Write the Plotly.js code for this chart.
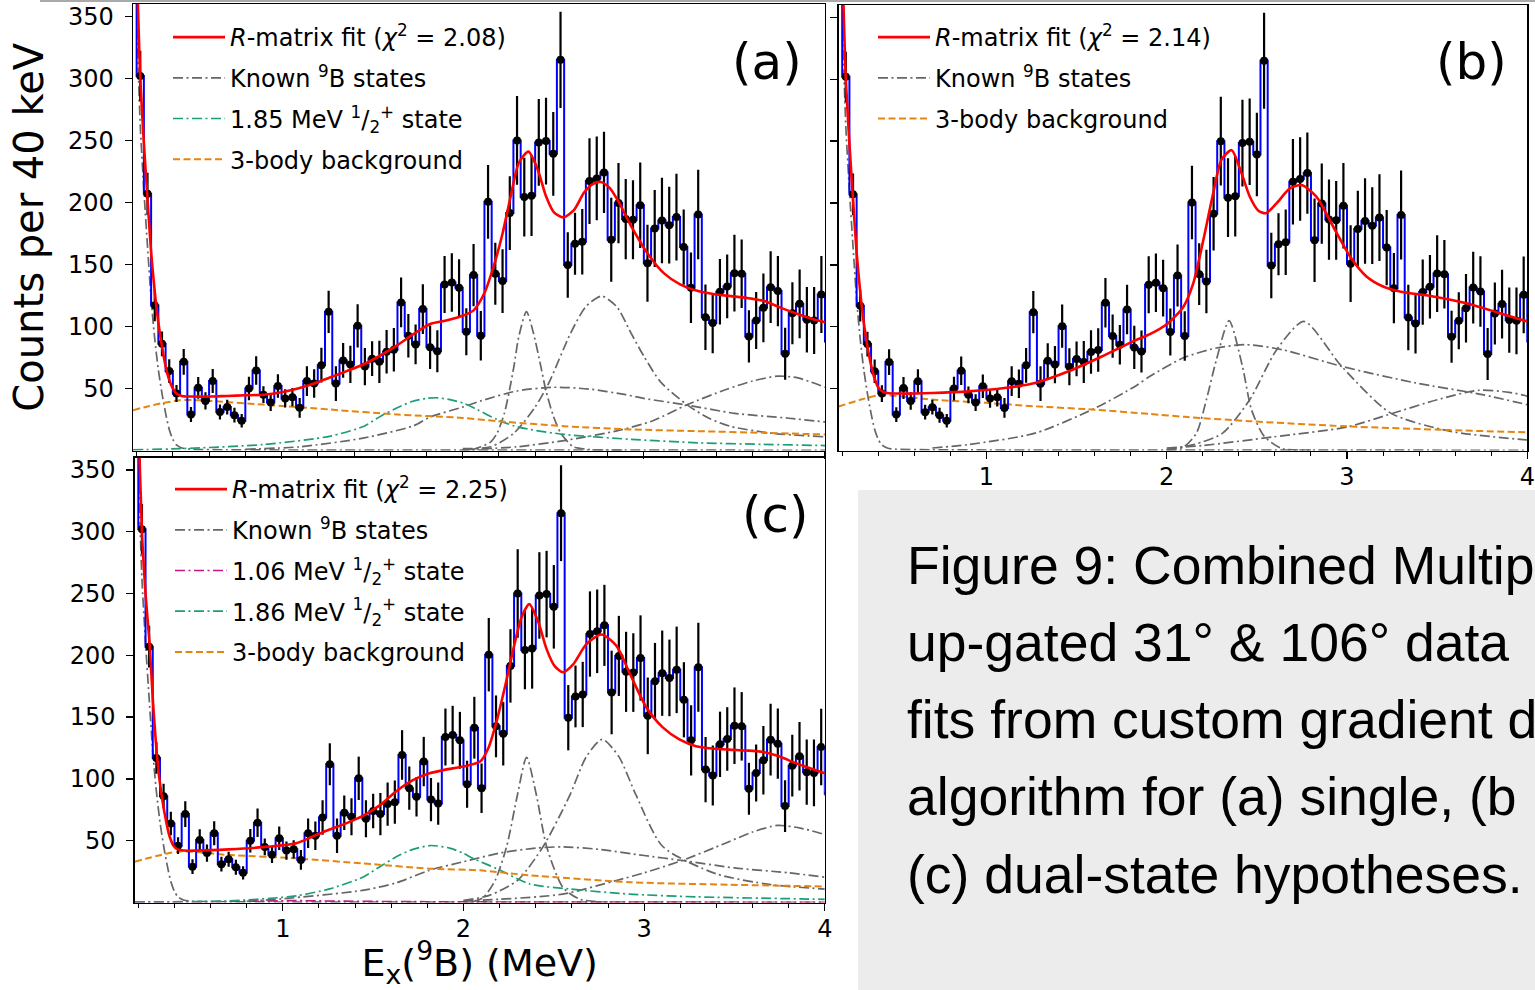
<!DOCTYPE html>
<html>
<head>
<meta charset="utf-8">
<script src="https://cdn.plot.ly/plotly-3.0.1.min.js"></script>
<style>html,body{margin:0;padding:0;background:#fff;}#chart{width:1535px;height:990px;}</style>
</head>
<body>
<div id="chart"></div>
<script>
// ---------- measured data (same spectrum in all three panels) ----------
const binCenters = [0.18,0.22,0.26,0.30,0.34,0.38,0.42,0.46,0.50,0.54,0.58,0.62,0.66,0.70,0.74,0.78,0.82,0.86,0.90,0.94,0.98,1.02,1.06,1.10,1.14,1.18,1.22,1.26,1.30,1.34,1.38,1.42,1.46,1.50,1.54,1.58,1.62,1.66,1.70,1.74,1.78,1.82,1.86,1.90,1.94,1.98,2.02,2.06,2.10,2.14,2.18,2.22,2.26,2.30,2.34,2.38,2.42,2.46,2.50,2.54,2.58,2.62,2.66,2.70,2.74,2.78,2.82,2.86,2.90,2.94,2.98,3.02,3.06,3.10,3.14,3.18,3.22,3.26,3.30,3.34,3.38,3.42,3.46,3.50,3.54,3.58,3.62,3.66,3.70,3.74,3.78,3.82,3.86,3.90,3.94,3.98,4.02];
const counts = [520,302,207,117,86,64,46,71.5,29,50.5,40,56,31,35,28.5,24,50,64.5,45,38.7,52,42,43,34.4,56,54,68.8,111.8,54,72.6,69.4,100.5,67.7,74,71.5,79.6,81.2,119.4,92.5,85.5,114,83.3,80,133.9,135.5,131.2,95.7,141.4,92.5,200.5,142.5,136.6,191.4,250,204.3,205.4,248.4,249.5,239.2,315,149.5,166.7,168.3,217.2,219.4,224.2,169.9,199.5,186.6,186,197.8,151,179,185.5,181.7,188.2,164,131.2,190.3,107.5,102.7,128,132.3,143,142.5,92,104.8,115,131.7,128.5,78,110.7,118.3,105.4,104.8,125.8,88];
const countErrors = [25,20.3,16.9,12.8,10,9.5,6.8,10.4,6,8.8,7,9.7,6,6,6,5.4,9.5,11.5,6.8,6.8,9.5,7.4,7.4,8,12,11.5,14,17,14,14,15,17.5,15,14,17,17.5,17.5,20,17.5,16,20,17.5,17,23,23.6,23,19,25,20,29.7,25,25.7,29.7,35.8,31.8,32.4,35,35,33.8,38.8,26.4,25,26.4,34.5,33.8,32.8,33.8,32.4,32.4,31.8,34.5,31,31,34.5,31,35,30.4,28.4,36,26.4,24.3,26.4,25.7,31,27.7,21,23,27.7,29,28.4,21,25,27.7,26.4,27,31,25];

// ground-state peak (known 9B state)
const gsState_x = [0.18,0.19,0.20,0.21,0.22,0.24,0.26,0.28,0.30,0.32,0.34,0.36,0.38,0.40,0.42,0.45,0.50,0.70,1.00,2.00,4.00];
const gsState_y = [600,470,370,305,262,210,165,122,90,65,46,30,17,9,4.5,2,1,0.6,0.4,0.3,0.2];

// ---------- panel (a): single-state hypothesis ----------
const fitA_x = [0.18,0.19,0.20,0.21,0.22,0.24,0.26,0.28,0.30,0.32,0.34,0.36,0.38,0.40,0.42,0.45,0.50,0.60,0.70,0.80,0.90,1.00,1.09,1.18,1.27,1.36,1.455,1.55,1.64,1.73,1.82,1.915,2.007,2.06,2.12,2.17,2.22,2.265,2.31,2.363,2.413,2.46,2.504,2.556,2.615,2.67,2.72,2.762,2.81,2.855,2.93,3.02,3.11,3.20,3.30,3.39,3.48,3.57,3.665,3.757,3.85,3.94,4.00];
const fitA_y = [640,500,400,345,300,248,203,160,128,103,84,68,57,50,46,44,43.5,43.5,44,44.5,45,47,50,54,59,64,69.5,77,85,94,102,105,109,113,127,148,175,205,232,241,227,205,192,188,194,208,215,216.5,212,202,181,159,143,134,128.5,126,124.5,123,120.5,115,110,105.6,103.5];
const narrowA_x = [2.05,2.10,2.155,2.19,2.23,2.26,2.283,2.31,2.352,2.39,2.431,2.46,2.50,2.541,2.58,2.61,2.70,2.90];
const narrowA_y = [0.5,3,7,14,30,50,68,92,112,95,68,48,28,14,7,3,0.8,0.2];
const peakA_x = [2.00,2.155,2.283,2.40,2.477,2.597,2.68,2.766,2.85,2.928,3.00,3.094,3.241,3.36,3.48,3.70,4.00];
const peakA_y = [1.5,3,14,35,55,95,116,124.5,116,95,76,55,36.6,26,19.4,14,11];
const broadA_x = [0.80,1.10,1.45,1.73,1.82,2.00,2.10,2.30,2.50,2.70,2.90,3.00,3.24,3.50,3.80,4.00];
const broadA_y = [1,3,10,20,27,35,40,48,51,49.5,45,42,36.6,30,26,23];
const highA_x = [2.00,2.30,2.56,2.855,3.05,3.24,3.45,3.60,3.74,3.85,4.00];
const highA_y = [0.5,3,8,16,24,37,49,56,60,58.5,51];
const newA_x = [0.18,0.44,0.90,1.27,1.455,1.547,1.639,1.72,1.80,1.86,1.93,2.007,2.08,2.19,2.28,2.37,2.56,2.93,3.30,3.65,4.00];
const newA_y = [0.5,1.5,4.8,11.6,19.6,27.7,34.4,39.5,42,42.5,41,38,33,25,20,17,13,9,6.2,5,4];
const bgA_x = [0.18,0.26,0.35,0.44,0.55,0.62,0.90,1.27,1.64,2.00,2.19,2.56,2.93,3.30,3.67,4.00];
const bgA_y = [32.5,35.5,38.4,40.5,40.5,39.8,37,33,29,26.3,23.7,19.6,17,15.6,14.2,12.9];

// ---------- panel (b): no new state ----------
const fitB_x = [0.18,0.19,0.20,0.21,0.22,0.24,0.26,0.28,0.30,0.32,0.34,0.36,0.38,0.40,0.42,0.45,0.53,0.70,0.90,1.10,1.27,1.456,1.64,1.826,1.907,2.00,2.092,2.147,2.203,2.258,2.304,2.36,2.415,2.461,2.507,2.55,2.609,2.683,2.748,2.831,2.923,3.016,3.108,3.20,3.293,3.478,3.663,3.848,4.00];
const fitB_y = [640,500,400,345,300,248,203,160,128,103,84,69,58,51,48,46.5,46,46.5,47.8,50.5,54.6,64,76,89,94,102,116,135,170,208,235,242.7,224,205,194,191.7,199.7,211.8,214.5,205,181,157,140.6,132.5,128.5,124.5,119,111,104.3];
const broadB_x = [0.70,0.90,1.27,1.60,1.826,1.907,2.09,2.275,2.44,2.64,2.97,3.38,3.75,4.00];
const broadB_y = [2,4.8,14,34,52,60,74.7,82.8,85.5,81.5,68,54.6,45.2,37];
const narrowB_x = [2.00,2.09,2.165,2.22,2.275,2.346,2.42,2.47,2.54,2.64,2.80];
const narrowB_y = [0.5,2.5,14,41,73,105,68,33,11.6,1.5,0.3];
const peakB_x = [2.00,2.15,2.31,2.46,2.61,2.761,2.97,3.24,3.57,4.00];
const peakB_y = [1,4.8,14,41,81.5,104.3,68,30.4,15.6,8.5];
const highB_x = [2.00,2.20,2.59,3.00,3.23,3.50,3.73,3.90,4.00];
const highB_y = [2,4,11,19,29,41,48.7,47,44];
const bgB_x = [0.18,0.30,0.40,0.50,0.71,1.00,1.27,1.60,1.907,2.10,2.46,3.00,3.57,4.00];
const bgB_y = [35.5,41,44.5,44,41,38.5,35.7,33,29.5,27.2,23.7,19.5,16.5,14.7];

// ---------- panel (c): dual-state hypothesis ----------
const fitC_x = [0.18,0.19,0.20,0.22,0.24,0.262,0.28,0.298,0.315,0.335,0.355,0.372,0.395,0.418,0.45,0.52,0.70,0.889,1.074,1.16,1.258,1.35,1.443,1.54,1.628,1.72,1.812,1.90,1.997,2.092,2.138,2.184,2.23,2.276,2.322,2.364,2.414,2.46,2.505,2.551,2.607,2.68,2.763,2.846,2.919,3.011,3.103,3.195,3.287,3.379,3.47,3.562,3.654,3.746,3.838,3.93,4.00];
const fitC_y = [640,500,400,300,250,210,165,128,102,81,65,54,46,43,42,42,43,44.8,48,53,59,64,70,79,90,99,104.5,107.5,110,114,125,147,174.7,205,231,241.4,227,205,191.2,186.3,192.6,209,216.8,207.8,185.7,158.2,141.7,132,126.5,124.6,123.7,123,121.9,118.3,112.8,108,104.5];
const narrowC_x = [2.05,2.11,2.175,2.239,2.298,2.349,2.404,2.46,2.55,2.643,2.80];
const narrowC_y = [0.5,4,17.8,45.3,86.6,117.4,86.6,45.3,12.3,2.7,0.3];
const peakC_x = [2.00,2.147,2.30,2.441,2.588,2.68,2.768,2.86,2.956,3.103,3.397,3.70,4.00];
const peakC_y = [1.5,6,18,45.3,86.6,118,132,118,86.6,45.3,23.3,14.5,10.9];
const broadC_x = [0.80,1.00,1.45,1.63,1.81,2.00,2.20,2.40,2.55,2.75,3.00,3.21,3.50,3.80,4.00];
const broadC_y = [1,3,10,16,26,33,40,44,45,43,38,34,28,24,20.5];
const highC_x = [2.00,2.20,2.55,2.846,3.00,3.21,3.45,3.60,3.737,3.87,4.00];
const highC_y = [1.5,2.6,6.8,17.8,24,34,48,57,62.4,60,55];
const lowStateC_x = [0.18,0.60,0.90,1.06,1.30,1.80,2.50,4.00];
const lowStateC_y = [0.2,0.6,1.2,1.5,1.1,0.6,0.3,0.2];
const newC_x = [0.18,0.705,1.074,1.258,1.443,1.535,1.628,1.72,1.82,1.923,2.00,2.052,2.184,2.368,2.588,2.919,3.287,4.00];
const newC_y = [0.5,1.3,5.4,11,20.5,28.8,37,43,46.1,44,39.8,35.7,27.4,15,10.9,6.8,4.6,2.6];
const bgC_x = [0.18,0.428,0.705,1.074,1.443,1.81,2.09,2.368,2.92,3.47,4.00];
const bgC_y = [33,41.2,38.4,35.7,31.6,27.4,26,22,16.4,14.4,13];

// ---------- text ----------
const legendTexts = {
  fitA: '<i>R</i>-matrix fit (<i>χ</i><sup>2</sup> = 2.08)',
  fitB: '<i>R</i>-matrix fit (<i>χ</i><sup>2</sup> = 2.14)',
  fitC: '<i>R</i>-matrix fit (<i>χ</i><sup>2</sup> = 2.25)',
  known: 'Known <sup>9</sup>B states',
  newA: '1.85 MeV <sup>1</sup>/<sub>2</sub><sup>+</sup> state',
  lowC: '1.06 MeV <sup>1</sup>/<sub>2</sub><sup>+</sup> state',
  newC: '1.86 MeV <sup>1</sup>/<sub>2</sub><sup>+</sup> state',
  bg: '3-body background'
};
const yTickVals = [50,100,150,200,250,300,350];
const captionLines = ['Figure 9: Combined Multip','up-gated 31° &amp; 106° data','fits from custom gradient d','algorithm for (a) single, (b','(c) dual-state hypotheses.'];

// ---------- styles ----------
const W = 1535, H = 990;
const RED = '#ff0000', BLUE = '#0000ff', GRAY = '#666666', GREEN = '#1b9e77', ORANGE = '#e6850e', MAGENTA = '#c71585';
const DASHDOT = '10px,3.5px,2px,3.5px';
const FONT = 'DejaVu Sans, Verdana, sans-serif';

const traces = [];
function line(x, y, xa, ya, leg, color, dash, width, name, show, rank, group) {
  traces.push({type:'scatter', mode:'lines', x:x, y:y, xaxis:xa, yaxis:ya, legend:leg,
    line:{color:color, dash:dash, width:width, shape:'spline', smoothing:0.7},
    name:name, showlegend:show, legendrank:rank, legendgroup:group, hoverinfo:'skip'});
}
function panel(s, xa, ya, leg, comps, fit, fitName) {
  comps.forEach(c => line(c.x, c.y, xa, ya, leg, c.color, c.dash, c.width, c.name, c.show, c.rank, s + c.group));
  traces.push({type:'scatter', mode:'lines', x:binCenters, y:counts, xaxis:xa, yaxis:ya, legend:leg,
    line:{color:BLUE, width:2, shape:'hvh'}, showlegend:false, hoverinfo:'skip'});
  traces.push({type:'scatter', mode:'markers', x:binCenters, y:counts, xaxis:xa, yaxis:ya, legend:leg,
    marker:{color:'#000', size:8},
    error_y:{type:'data', array:countErrors, visible:true, color:'#000', thickness:2.2, width:0},
    showlegend:false, hoverinfo:'skip'});
  line(fit.x, fit.y, xa, ya, leg, RED, 'solid', 2.6, fitName, true, 1, s + 'fit');
}

panel('a', 'x', 'y', 'legend', [
  {x:gsState_x, y:gsState_y, color:GRAY, dash:DASHDOT, width:1.7, name:legendTexts.known, show:true, rank:2, group:'known'},
  {x:narrowA_x, y:narrowA_y, color:GRAY, dash:DASHDOT, width:1.7, name:legendTexts.known, show:false, rank:2, group:'known'},
  {x:peakA_x, y:peakA_y, color:GRAY, dash:DASHDOT, width:1.7, name:legendTexts.known, show:false, rank:2, group:'known'},
  {x:broadA_x, y:broadA_y, color:GRAY, dash:DASHDOT, width:1.7, name:legendTexts.known, show:false, rank:2, group:'known'},
  {x:highA_x, y:highA_y, color:GRAY, dash:DASHDOT, width:1.7, name:legendTexts.known, show:false, rank:2, group:'known'},
  {x:newA_x, y:newA_y, color:GREEN, dash:DASHDOT, width:1.7, name:legendTexts.newA, show:true, rank:4, group:'new'},
  {x:bgA_x, y:bgA_y, color:ORANGE, dash:'7px,3.5px', width:2, name:legendTexts.bg, show:true, rank:5, group:'bg'}
], {x:fitA_x, y:fitA_y}, legendTexts.fitA);

panel('b', 'x2', 'y2', 'legend2', [
  {x:gsState_x, y:gsState_y, color:GRAY, dash:DASHDOT, width:1.7, name:legendTexts.known, show:true, rank:2, group:'known'},
  {x:broadB_x, y:broadB_y, color:GRAY, dash:DASHDOT, width:1.7, name:legendTexts.known, show:false, rank:2, group:'known'},
  {x:narrowB_x, y:narrowB_y, color:GRAY, dash:DASHDOT, width:1.7, name:legendTexts.known, show:false, rank:2, group:'known'},
  {x:peakB_x, y:peakB_y, color:GRAY, dash:DASHDOT, width:1.7, name:legendTexts.known, show:false, rank:2, group:'known'},
  {x:highB_x, y:highB_y, color:GRAY, dash:DASHDOT, width:1.7, name:legendTexts.known, show:false, rank:2, group:'known'},
  {x:bgB_x, y:bgB_y, color:ORANGE, dash:'7px,3.5px', width:2, name:legendTexts.bg, show:true, rank:5, group:'bg'}
], {x:fitB_x, y:fitB_y}, legendTexts.fitB);

panel('c', 'x3', 'y3', 'legend3', [
  {x:gsState_x, y:gsState_y, color:GRAY, dash:DASHDOT, width:1.7, name:legendTexts.known, show:true, rank:2, group:'known'},
  {x:narrowC_x, y:narrowC_y, color:GRAY, dash:DASHDOT, width:1.7, name:legendTexts.known, show:false, rank:2, group:'known'},
  {x:peakC_x, y:peakC_y, color:GRAY, dash:DASHDOT, width:1.7, name:legendTexts.known, show:false, rank:2, group:'known'},
  {x:broadC_x, y:broadC_y, color:GRAY, dash:DASHDOT, width:1.7, name:legendTexts.known, show:false, rank:2, group:'known'},
  {x:highC_x, y:highC_y, color:GRAY, dash:DASHDOT, width:1.7, name:legendTexts.known, show:false, rank:2, group:'known'},
  {x:lowStateC_x, y:lowStateC_y, color:MAGENTA, dash:DASHDOT, width:1.7, name:legendTexts.lowC, show:true, rank:3, group:'low'},
  {x:newC_x, y:newC_y, color:GREEN, dash:DASHDOT, width:1.7, name:legendTexts.newC, show:true, rank:4, group:'new'},
  {x:bgC_x, y:bgC_y, color:ORANGE, dash:'7px,3.5px', width:2, name:legendTexts.bg, show:true, rank:5, group:'bg'}
], {x:fitC_x, y:fitC_y}, legendTexts.fitC);

// ---------- axes ----------
const tickFont = {family: FONT, size: 24, color: '#000'};
function xAxis(domPx, anchor, labels, extra) {
  return Object.assign({domain:[domPx[0]/W, domPx[1]/W], anchor:anchor, range:[0.18, 4.0],
    tick0:0, dtick:1, ticks:'outside', ticklen:7, tickwidth:1.3, tickcolor:'#000',
    showticklabels:labels, tickfont:tickFont, ticklabelstandoff:-3,
    showline:true, linecolor:'#000', linewidth:1.4, mirror:true, showgrid:false, zeroline:false,
    minor:{tick0:0, dtick:0.2, ticks:'outside', ticklen:4, tickwidth:1, tickcolor:'#000', showgrid:false},
    fixedrange:true}, extra || {});
}
function yAxis(domPx, anchor, labels, extra) {
  return Object.assign({domain:[1 - domPx[1]/H, 1 - domPx[0]/H], anchor:anchor, range:[0, 360],
    tickmode:'array', tickvals:yTickVals, ticks:'outside', ticklen:7, tickwidth:1.3, tickcolor:'#000',
    showticklabels:labels, tickfont:tickFont, ticklabelstandoff:6,
    showline:true, linecolor:'#000', linewidth:1.4, mirror:true, showgrid:false, zeroline:false,
    fixedrange:true}, extra || {});
}
function legendAt(leftPx, topPx) {
  return {x:leftPx/W, y:1 - topPx/H, xanchor:'left', yanchor:'top', bgcolor:'rgba(0,0,0,0)',
    borderwidth:0, font:{family:FONT, size:24, color:'#000'}, tracegroupgap:6.5, itemwidth:52};
}

const layout = {
  width: W, height: H, margin: {l:0, r:0, t:0, b:0},
  paper_bgcolor: '#ffffff', plot_bgcolor: '#ffffff', showlegend: true,
  xaxis: xAxis([133, 825], 'y', false),
  yaxis: yAxis([4, 450.5], 'x', true, {title:{text:'Counts per 40 keV', font:{family:FONT, size:40, color:'#000'}, standoff:12}}),
  xaxis2: xAxis([838.6, 1527.3], 'y2', true),
  yaxis2: yAxis([5, 450.5], 'x2', false),
  xaxis3: xAxis([134.7, 824.8], 'y3', true, {title:{text:'E<sub>x</sub>(<sup>9</sup>B) (MeV)', font:{family:FONT, size:38, color:'#000'}, standoff:16}}),
  yaxis3: yAxis([457.5, 902.5], 'x3', true),
  legend: legendAt(168, 15),
  legend2: legendAt(873, 15),
  legend3: legendAt(170, 467),
  shapes: [
    {type:'rect', xref:'paper', yref:'paper', x0:858/W, x1:1, y0:0, y1:1 - 490/H, fillcolor:'#ececec', line:{width:0}, layer:'below'},
    {type:'line', xref:'paper', yref:'paper', x0:40/W, x1:1, y0:1 - 1/H, y1:1 - 1/H, line:{color:'#555555', width:1}}
  ],
  annotations: [
    {text:'(a)', xref:'paper', yref:'paper', x:767/W, y:1 - 62/H, xanchor:'center', yanchor:'middle', showarrow:false, font:{family:FONT, size:50, color:'#000'}},
    {text:'(b)', xref:'paper', yref:'paper', x:1471/W, y:1 - 62/H, xanchor:'center', yanchor:'middle', showarrow:false, font:{family:FONT, size:50, color:'#000'}},
    {text:'(c)', xref:'paper', yref:'paper', x:775/W, y:1 - 515/H, xanchor:'center', yanchor:'middle', showarrow:false, font:{family:FONT, size:50, color:'#000'}}
  ].concat(captionLines.map((t, i) => ({
    text:t, xref:'paper', yref:'paper', x:905/W, y:1 - (565 + i*77.3)/H, xanchor:'left', yanchor:'middle',
    showarrow:false, align:'left', font:{family:'Liberation Sans, Arial, sans-serif', size:53.5, color:'#000'}
  })))
};

Plotly.newPlot('chart', traces, layout, {displayModeBar:false, staticPlot:true});
</script>
</body>
</html>
